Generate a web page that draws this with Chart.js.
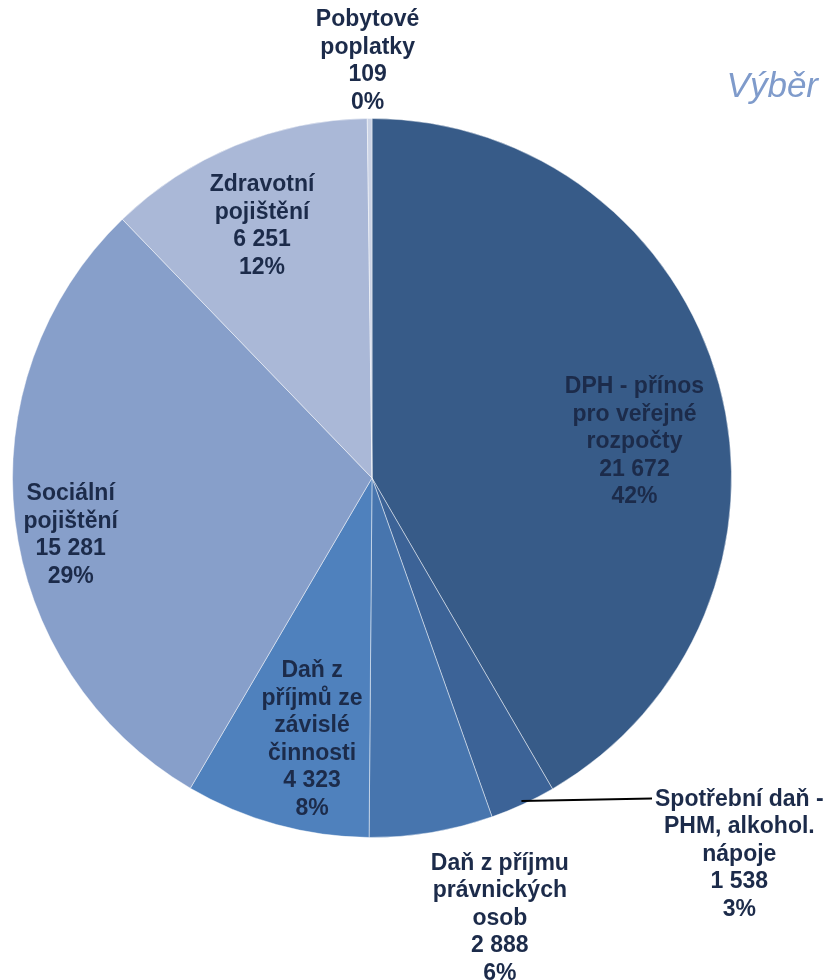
<!DOCTYPE html>
<html><head><meta charset="utf-8">
<script src="https://cdn.jsdelivr.net/npm/chart.js@4"></script>
<style>html,body{margin:0;padding:0;background:#fff}#wrap{width:825px;height:980px;position:relative}</style>
</head><body><div id="wrap"><canvas id="c" width="825" height="980"></canvas></div>
<script>
const categories = [
  ["DPH - přínos","pro veřejné","rozpočty"],
  ["Spotřební daň -","PHM, alkohol.","nápoje"],
  ["Daň z příjmu","právnických","osob"],
  ["Daň z","příjmů ze","závislé","činnosti"],
  ["Sociální","pojištění"],
  ["Zdravotní","pojištění"],
  ["Pobytové","poplatky"]
];
const values = [21672, 1538, 2888, 4323, 15281, 6251, 109];
const percentLabels = ["42%","3%","6%","8%","29%","12%","0%"];
const colors = ["#375B88","#3C6397","#4775AE","#4F81BD","#879FCA","#AAB8D7","#CBD3E5"];
const title = "Výběr";
// label placement: angle (deg clockwise from top), radius fraction
const labelPos = [
  {a:82.2, r:0.737}, {a:135.7, r:1.463, leader:true}, {a:163.8, r:1.275},
  {a:192.9, r:0.747}, {a:259.3, r:0.853}, {a:336.4, r:0.764}, {a:359.4, r:1.16}
];
function fmt(v){return String(v).replace(/\B(?=(\d{3})+(?!\d))/g,' ');}

const labelPlugin = {
  id:'labels',
  afterDatasetsDraw(chart){
    const ctx = chart.ctx;
    const meta = chart.getDatasetMeta(0);
    const arc0 = meta.data[0];
    const cx = arc0.x, cy = arc0.y, R = arc0.outerRadius;
    ctx.save();
    ctx.font = 'bold 23px "Liberation Sans", Arial, sans-serif';
    ctx.fillStyle = '#1C2B4A';
    ctx.textAlign = 'center';
    ctx.textBaseline = 'middle';
    const lh = 27.5;
    categories.forEach((cat,i)=>{
      const p = labelPos[i];
      const ang = p.a*Math.PI/180;
      const x = cx + p.r*R*Math.sin(ang);
      const y = cy - p.r*R*Math.cos(ang);
      const lines = cat.concat([fmt(values[i]), percentLabels[i]]);
      const y0 = y - (lines.length-1)*lh/2;
      lines.forEach((t,k)=>ctx.fillText(t, x, y0+k*lh));
      if(p.leader){
        const arc = meta.data[i];
        const mid = (arc.startAngle+arc.endAngle)/2;
        const sx = cx + arc.outerRadius*0.99*Math.cos(mid);
        const sy = cy + arc.outerRadius*0.99*Math.sin(mid);
        const w0 = ctx.measureText(lines[0]).width;
        ctx.beginPath();
        ctx.strokeStyle = '#000';
        ctx.lineWidth = 2;
        ctx.moveTo(sx, sy);
        ctx.lineTo(x - w0/2 - 3, y0 - 1);
        ctx.stroke();
      }
    });
    ctx.font = 'italic 35px "Liberation Sans", Arial, sans-serif';
    ctx.fillStyle = '#7F9BCB';
    ctx.textAlign = 'right';
    ctx.textBaseline = 'alphabetic';
    ctx.fillText(title, 818, 97);
    ctx.restore();
  }
};

new Chart(document.getElementById('c'), {
  type:'pie',
  data:{
    labels: categories.map(c=>c.join(' ')),
    datasets:[{data: values, backgroundColor: colors, borderColor:'rgba(255,255,255,0.45)', borderWidth:1}]
  },
  options:{
    responsive:false, animation:false,
    layout:{padding:{left:12,right:93,top:118,bottom:142}},
    plugins:{legend:{display:false}, tooltip:{enabled:false}, title:{display:false}}
  },
  plugins:[labelPlugin]
});
</script></body></html>
